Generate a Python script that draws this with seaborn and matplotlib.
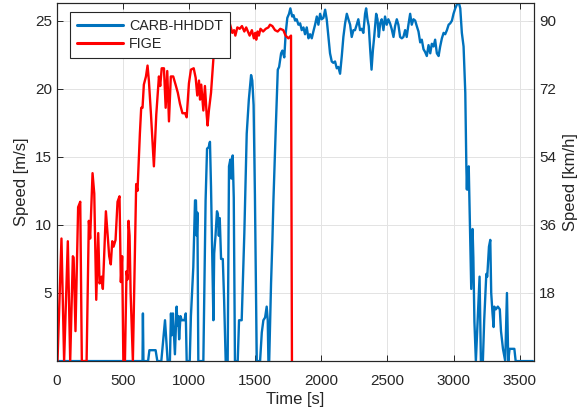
import matplotlib
matplotlib.use("Agg")
import matplotlib.pyplot as plt
import seaborn as sns
import pandas as pd

# FIGE cycle (time [s], speed [m/s])
fige_t = [0, 5, 35, 55, 83, 101, 121, 127, 141, 161, 177, 189, 225, 242, 252, 270, 283, 298, 313, 323,
          338, 348, 371, 396, 408, 419, 429, 444, 459, 474, 484, 494, 503, 515, 527, 535, 542, 550, 558,
          575, 600, 610, 628, 638, 648, 658, 674, 686, 696, 712, 734, 752, 772, 782, 793, 810, 823, 835,
          848, 862, 880, 898, 915, 931, 950, 970, 982, 999, 1014, 1035, 1050, 1062, 1075, 1083, 1092,
          1108, 1120, 1133, 1140, 1150, 1166, 1184, 1195, 1215, 1240, 1265, 1285, 1297, 1305, 1327,
          1340, 1350, 1365, 1383, 1400, 1418, 1432, 1445, 1458, 1475, 1490, 1500, 1508, 1518, 1528,
          1540, 1560, 1580, 1600, 1612, 1630, 1650, 1670, 1690, 1713, 1730, 1751, 1771, 1778]
fige_v = [0, 0, 9.0, 0, 8.8, 0, 7.7, 7.6, 2.2, 11.3, 11.7, 0, 0, 10.3, 9.0, 13.8, 12.3, 4.5, 9.4, 5.7,
          6.2, 5.3, 11.0, 7.7, 7.1, 8.8, 8.4, 8.9, 11.7, 12.1, 5.8, 7.7, 0, 0, 6.6, 6.0, 10.3, 9.2, 5.0,
          0, 13.0, 12.5, 16.7, 18.6, 18.6, 20.3, 20.9, 21.7, 20.6, 18.1, 14.3, 18.1, 20.9, 20.2, 21.5,
          21.5, 18.6, 21.3, 17.6, 20.9, 20.9, 20.3, 19.7, 18.9, 18.2, 18.2, 17.9, 20.4, 21.4, 21.5,
          20.8, 19.5, 20.6, 19.2, 20.3, 18.4, 20.2, 18.1, 17.3, 18.4, 19.7, 22.2, 24.0, 24.6, 24.9,
          24.5, 25.0, 25.2, 24.9, 24.1, 24.3, 23.9, 24.5, 24.4, 24.6, 24.2, 24.5, 24.2, 23.9, 24.3,
          23.7, 24.1, 23.6, 24.2, 23.9, 24.4, 24.2, 24.4, 24.5, 24.7, 24.6, 24.3, 24.2, 24.4, 24.3,
          23.9, 23.7, 23.9, 0]

# CARB-HHDDT cycle (time [s], speed [m/s])
carb_t = [0, 648, 651, 655, 690, 700, 747, 760, 790, 802, 818, 826, 838, 855, 863, 870, 878, 893, 906,
          912, 918, 925, 935, 945, 965, 975, 982, 1005, 1014, 1032, 1045, 1052, 1058, 1063, 1070, 1108,
          1125, 1136, 1148, 1158, 1166, 1184, 1190, 1200, 1211, 1218, 1225, 1232, 1242, 1255, 1265,
          1277, 1292, 1302, 1312, 1320, 1330, 1338, 1347, 1368, 1378, 1398, 1418, 1436, 1452, 1469,
          1478, 1488, 1498, 1512, 1537, 1550, 1562, 1575, 1587, 1595, 1600, 1606, 1620, 1630, 1638,
          1656, 1671, 1681, 1696, 1706, 1720, 1731, 1743, 1756, 1766, 1780, 1790, 1802, 1814, 1827,
          1840, 1852, 1865, 1877, 1890, 1903, 1915, 1928, 1940, 1953, 1966, 1978, 1991, 2003, 2016,
          2029, 2041, 2054, 2066, 2079, 2091, 2104, 2117, 2129, 2142, 2155, 2167, 2180, 2193, 2205,
          2218, 2230, 2243, 2255, 2268, 2280, 2293, 2306, 2318, 2331, 2339, 2349, 2359, 2369, 2380,
          2390, 2400, 2415, 2425, 2435, 2445, 2457, 2470, 2482, 2495, 2507, 2520, 2532, 2546, 2558,
          2571, 2583, 2596, 2609, 2621, 2634, 2646, 2659, 2672, 2684, 2697, 2710, 2722, 2735, 2748,
          2760, 2773, 2785, 2798, 2811, 2824, 2836, 2849, 2861, 2874, 2887, 2899, 2912, 2925, 2937,
          2950, 2963, 2975, 2988, 3000, 3013, 3026, 3038, 3051, 3063, 3076, 3089, 3097, 3101, 3105,
          3110, 3115, 3128, 3134, 3144, 3150, 3158, 3169, 3180, 3197, 3207, 3222, 3232, 3248, 3255,
          3268, 3278, 3285, 3295, 3303, 3308, 3320, 3335, 3350, 3359, 3374, 3391, 3404, 3414, 3424,
          3460, 3470, 3600]
carb_v = [0, 0, 3.5, 0, 0, 0.8, 0.8, 0, 0, 1.3, 3.0, 1.8, 0, 0, 3.5, 1.9, 3.5, 0.5, 4.0,
          2.6, 3.3, 1.6, 3.3, 3.0, 3.0, 3.5, 0, 0, 3.3, 6.9, 11.8, 11.8, 9.2, 10.9, 0, 0,
          11.8, 15.6, 15.7, 16.1, 12.8, 3.0, 7.9, 9.2, 11.0, 10.8, 9.2, 10.5, 7.5, 7.5, 4.5,
          0, 0, 14.3, 14.8, 13.4, 15.1, 12.0, 0, 0, 3.0, 3.0, 9.4, 16.7, 19.2, 21.0,
          20.6, 18.8, 12.2, 0, 0, 2.1, 3.0, 3.2, 4.0, 3.0, 0, 0, 5.7, 8.8, 11.8,
          17.2, 21.4, 21.6, 22.6, 22.8, 22.3, 24.1, 25.2, 25.5, 25.9, 25.3, 25.4, 25.0, 25.1, 24.7,
          24.8, 24.3, 24.5, 24.0, 24.5, 23.7, 24.0, 23.7, 24.2, 24.7, 25.3, 24.7, 25.5, 25.1, 25.2,
          25.8, 25.1, 23.8, 22.6, 22.0, 21.9, 22.0, 21.5, 21.6, 21.1, 22.4, 23.8, 24.8, 25.5, 25.1,
          24.7, 23.8, 24.3, 24.3, 24.7, 25.1, 24.3, 24.4, 24.1, 25.5, 25.9, 25.1, 24.6, 23.0, 21.4,
          22.8, 23.8, 25.5, 25.1, 23.8, 24.8, 25.1, 24.3, 25.3, 24.7, 25.1, 24.8, 24.4, 23.8, 24.6,
          25.1, 24.7, 23.8, 23.7, 23.8, 24.3, 23.8, 24.7, 25.5, 24.7, 25.1, 25.0, 24.6, 24.2, 23.4,
          23.6, 22.9, 22.7, 22.4, 23.2, 22.6, 23.3, 23.1, 23.6, 22.6, 22.4, 23.1, 23.7, 24.1, 24.0,
          24.3, 24.7, 24.8, 25.0, 25.5, 25.9, 26.2, 26.4, 25.9, 24.1, 23.1, 19.7, 14.3, 12.6, 14.2,
          12.6, 14.3, 8.2, 5.3, 9.7, 7.6, 2.9, 0, 2.5, 6.2, 0, 0, 3.0, 6.4, 6.2,
          8.4, 8.9, 5.0, 3.5, 2.5, 4.0, 3.8, 4.0, 3.8, 2.2, 0.9, 0, 5.0, 0, 0.9,
          0.9, 0, 0]

series_names = ["CARB-HHDDT", "FIGE"]
series_colors = ["#0072BD", "#FF0000"]
x_ticks = [0, 500, 1000, 1500, 2000, 2500, 3000, 3500]
y_ticks = [5, 10, 15, 20, 25]
kmh_ticks = [18, 36, 54, 72, 90]

sns.set_style("ticks")
plt.rcParams["font.family"] = ["Liberation Sans", "DejaVu Sans"]

fig = plt.figure(figsize=(5.8, 4.16), dpi=100)
ax = fig.add_axes([0.098, 0.132, 0.823, 0.861])

df_carb = pd.DataFrame({"t": carb_t, "v": carb_v})
df_fige = pd.DataFrame({"t": fige_t, "v": fige_v})
sns.lineplot(data=df_carb, x="t", y="v", ax=ax, color=series_colors[0], lw=1.7,
             label=series_names[0], sort=False, estimator=None)
sns.lineplot(data=df_fige, x="t", y="v", ax=ax, color=series_colors[1], lw=1.7,
             label=series_names[1], sort=False, estimator=None)

xmax = 3610
ymax = 26.3
ax.set_xlim(0, xmax)
ax.set_ylim(0, ymax)
ax.set_xticks(x_ticks)
ax.set_yticks(y_ticks)
ax.grid(True, color="#e3e3e3", lw=0.7)
ax.set_axisbelow(True)
ax.tick_params(direction="in", length=4, labelsize=11, top=True, right=False,
               color="#262626", labelcolor="#262626", width=0.7)
ax.tick_params(axis="x", pad=9)
for s in ax.spines.values():
    s.set_color("#262626")
    s.set_linewidth(0.8)
ax.set_xlabel("Time [s]", fontsize=12, color="#262626", labelpad=3)
ax.set_ylabel("Speed [m/s]", fontsize=12, color="#262626", labelpad=4)

ax2 = ax.twinx()
ax2.set_ylim(0, ymax * 3.6)
ax2.set_yticks(kmh_ticks)
ax2.tick_params(direction="in", length=4, labelsize=11, color="#262626",
                labelcolor="#262626", width=0.7)
ax2.set_ylabel("Speed [km/h]", fontsize=12, color="#262626", labelpad=5)
for s in ax2.spines.values():
    s.set_color("#262626")
    s.set_linewidth(0.8)

leg = ax.legend(loc="upper left", bbox_to_anchor=(0.027, 0.975), borderaxespad=0,
                fancybox=False, framealpha=1, edgecolor="#262626", fontsize=10.3,
                handlelength=3.2, handletextpad=0.45, borderpad=0.5, labelspacing=0.3)
leg.get_frame().set_linewidth(0.8)
for line in leg.get_lines():
    line.set_linewidth(2.2)
leg.set_zorder(10)
ax.set_zorder(ax2.get_zorder() + 1)
ax.patch.set_visible(False)

fig.savefig("out.png", dpi=100)
